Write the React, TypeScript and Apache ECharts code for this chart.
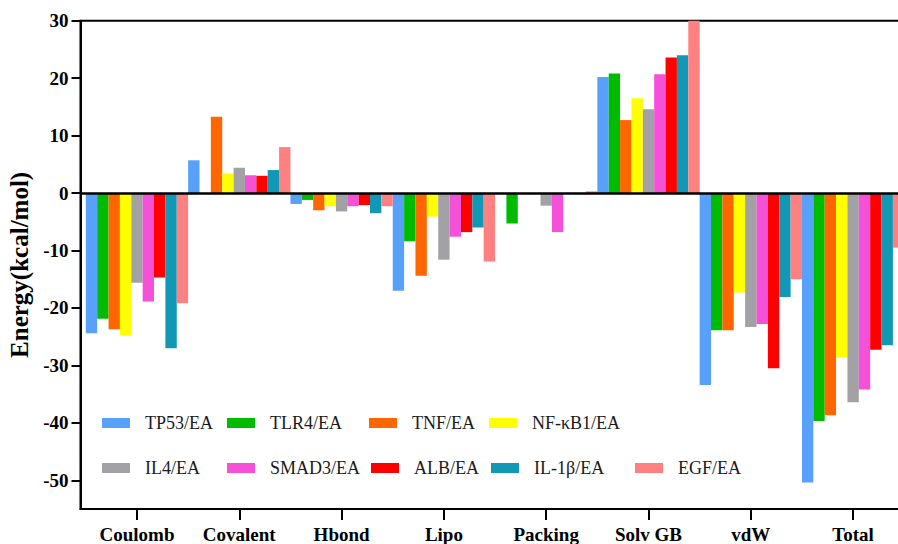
import { useEffect, useRef } from 'react';
import * as echarts from 'echarts';

// Energy terms along the x axis
const categories = ['Coulomb', 'Covalent', 'Hbond', 'Lipo', 'Packing', 'Solv GB', 'vdW', 'Total'];

// Complex names (one bar series each)
const seriesNames = [
  'TP53/EA', 'TLR4/EA', 'TNF/EA', 'NF-κB1/EA', 'IL4/EA',
  'SMAD3/EA', 'ALB/EA', 'IL-1β/EA', 'EGF/EA',
];

// Energy values (kcal/mol), one entry per category
const tp53 = [-24.4, 5.7, -1.9, -17.0, 0, 20.2, -33.4, -50.4];
const tlr4 = [-21.9, 0, -1.2, -8.4, -5.3, 20.8, -23.9, -39.7];
const tnf = [-23.7, 13.3, -3.0, -14.4, 0, 12.7, -23.9, -38.7];
const nfkb1 = [-24.8, 3.4, -2.3, -4.1, -0.2, 16.5, -17.3, -28.6];
const il4 = [-15.6, 4.4, -3.2, -11.6, -2.2, 14.6, -23.3, -36.4];
const smad3 = [-18.9, 3.1, -2.3, -7.6, -6.8, 20.7, -22.8, -34.2];
const alb = [-14.7, 3.0, -2.1, -6.8, 0, 23.6, -30.5, -27.3];
const il1b = [-27.0, 4.0, -3.5, -6.0, 0, 24.0, -18.1, -26.5];
const egf = [-19.2, 8.0, -2.3, -11.9, 0.3, 30.0, -15.0, -9.5];

const seriesValues = [tp53, tlr4, tnf, nfkb1, il4, smad3, alb, il1b, egf];

const colors = [
  '#58a1fb', '#00bb00', '#ff6600', '#ffff00', '#a2a2a6',
  '#f450d8', '#ff0000', '#1098b4', '#ff8080',
];

// y-axis tick values
const yTicks = [-50, -40, -30, -20, -10, 0, 10, 20, 30];

// legend placement: [left, verticalCenter] of each entry
const legendSpots: [number, number][] = [
  [102, 424], [227, 424], [369, 424], [489, 424],
  [102, 469], [227, 469], [371, 469], [491, 469], [635, 469],
];

const serif = "'Liberation Serif', 'Times New Roman', serif";

export default function App() {
  const ref = useRef<HTMLDivElement>(null);

  useEffect(() => {
    const chart = echarts.init(ref.current!, null, { renderer: 'svg' });
    const catIdx = categories.map((_, i) => i);

    const bars = seriesNames.map((name, s) => ({
      name,
      type: 'bar' as const,
      data: seriesValues[s].map((v, i) => [i, v]),
      itemStyle: { color: colors[s] },
      barGap: '0%',
      barCategoryGap: '0%',
      z: 2,
    }));

    const zeroLine = {
      name: 'zero',
      type: 'line' as const,
      data: [],
      z: 5,
      markLine: {
        silent: true,
        symbol: 'none',
        label: { show: false },
        lineStyle: { color: '#000', width: 2.5, type: 'solid' },
        data: [{ yAxis: 0 }],
      },
    };

    const legends = seriesNames.map((name, s) => ({
      data: [name],
      left: legendSpots[s][0],
      top: legendSpots[s][1] - 10,
      icon: 'rect',
      itemWidth: 28,
      itemHeight: 10,
      selectedMode: false,
      padding: 0,
      textStyle: {
        fontFamily: serif,
        fontSize: 18,
        color: '#1a1a1a',
        padding: [0, 0, 0, 10],
      },
    }));

    chart.setOption({
      animation: false,
      backgroundColor: '#fff',
      color: colors,
      legend: legends,
      grid: {
        left: 80.5,
        top: 20.7,
        width: 834,
        height: 488.3,
        show: true,
        borderColor: '#000',
        borderWidth: 2,
        backgroundColor: 'transparent',
        containLabel: false,
        outerBoundsMode: 'none',
      },
      xAxis: {
        type: 'value',
        min: -0.552,
        max: 7.6,
        splitLine: { show: false },
        axisLine: { onZero: false, lineStyle: { color: '#000', width: 2 } },
        axisTick: {
          show: true,
          length: 11,
          customValues: catIdx,
          lineStyle: { color: '#000', width: 2 },
        },
        axisLabel: {
          customValues: catIdx,
          formatter: (v: number) => categories[Math.round(v)] ?? '',
          fontFamily: serif,
          fontWeight: 'bold',
          fontSize: 19,
          color: '#000',
          margin: 16,
        },
      },
      yAxis: {
        type: 'value',
        min: -55,
        max: 30,
        name: 'Energy(kcal/mol)',
        nameLocation: 'middle',
        nameGap: 43,
        nameTextStyle: {
          fontFamily: serif,
          fontWeight: 'bold',
          fontSize: 25,
          color: '#000',
        },
        splitLine: { show: false },
        axisLine: { onZero: false, lineStyle: { color: '#000', width: 2 } },
        axisTick: {
          show: true,
          length: 9,
          customValues: yTicks,
          lineStyle: { color: '#000', width: 2 },
        },
        axisLabel: {
          customValues: yTicks,
          fontFamily: serif,
          fontWeight: 'bold',
          fontSize: 19,
          color: '#000',
          margin: 12,
        },
      },
      series: [...bars, zeroLine],
    });

    return () => chart.dispose();
  }, []);

  return (
    <div
      ref={ref}
      style={{ position: 'fixed', left: 0, top: 0, width: 898, height: 544 }}
    />
  );
}
